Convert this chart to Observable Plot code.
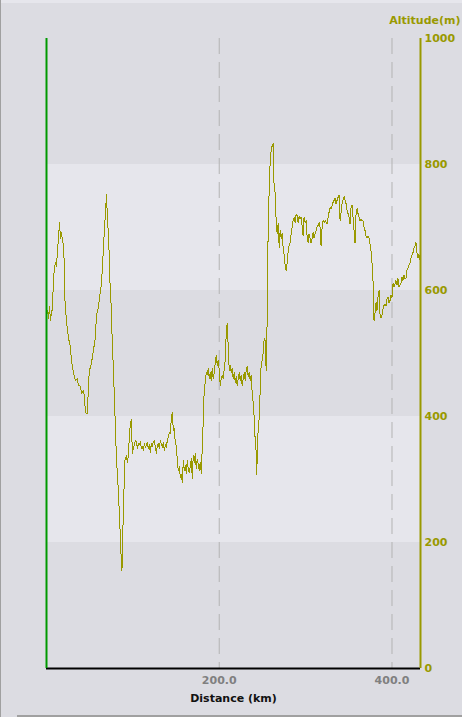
<!DOCTYPE html>
<html><head><meta charset="utf-8">
<script src="https://cdn.jsdelivr.net/npm/d3@7"></script>
<script src="https://cdn.jsdelivr.net/npm/@observablehq/plot@0.6"></script>
<style>
html,body{margin:0;padding:0;background:#dcdce2;overflow:hidden}
#wrap{position:relative;width:462px;height:717px}
.c{position:absolute}
</style></head><body>
<div id="wrap"></div>
<script>
const distanceKm = [1.2,2.3,3.5,4.6,5.8,6.9,8.1,9.2,10.4,11.6,12.7,13.9,15.0,16.2,17.3,18.5,19.7,20.8,21.4,23.1,
25.4,27.7,28.9,31.2,33.5,35.8,37.0,39.3,40.5,42.8,43.9,45.1,47.4,48.6,49.7,52.0,54.3,56.6,57.8,60.1,
61.3,63.6,64.7,65.9,68.2,69.4,70.5,71.7,72.8,73.4,75.1,76.3,77.5,78.6,79.8,80.9,82.7,84.4,85.5,86.7,
87.3,87.9,88.4,89.6,90.7,91.3,92.5,93.6,94.8,95.9,97.1,98.3,99.4,100.6,101.7,102.9,104.0,105.2,106.4,107.5,
108.7,109.8,111.0,112.1,113.3,114.5,115.6,116.8,117.9,119.1,120.2,121.4,122.5,123.7,124.9,126.0,127.2,128.3,129.5,130.6,
131.8,132.9,134.1,135.3,136.4,137.6,138.7,139.9,141.0,142.2,143.3,144.5,145.7,146.8,148.0,149.1,150.3,151.4,152.6,153.8,
154.9,156.1,157.2,158.4,159.5,160.7,161.8,163.0,164.1,165.3,166.5,167.6,168.8,169.9,171.1,172.2,173.4,174.5,175.7,176.9,
178.0,179.2,180.3,181.5,182.6,183.8,185.0,186.1,187.3,188.4,189.6,190.7,191.9,193.0,194.2,195.4,196.5,197.7,198.8,200.0,
201.2,202.3,203.5,204.6,205.8,206.9,208.1,209.2,210.4,211.6,212.7,213.9,215.0,216.2,217.3,218.5,219.7,220.8,222.0,223.1,
224.3,225.4,226.6,227.7,228.9,230.1,231.2,232.4,233.5,234.7,235.8,237.0,238.1,239.3,240.5,241.6,242.8,243.4,244.5,246.2,
247.4,248.5,249.7,250.8,252.0,253.2,254.3,254.9,255.5,256.1,256.6,257.8,258.9,260.1,261.3,262.4,263.6,264.7,265.9,267.0,
268.2,269.4,270.5,271.7,272.8,274.0,275.1,276.3,277.5,278.6,279.8,280.9,282.1,283.2,284.4,285.5,286.7,287.9,289.0,290.2,
291.3,292.5,293.6,294.8,295.9,297.1,298.2,299.4,300.6,301.7,302.9,304.0,305.2,306.3,307.5,308.6,309.8,311.0,312.1,313.3,
314.4,315.6,316.7,317.9,319.1,320.2,321.4,322.5,323.7,324.8,326.0,327.1,328.3,329.5,330.6,331.8,332.9,334.1,335.2,336.4,
337.6,338.7,339.9,341.0,342.2,343.3,344.5,345.7,346.8,348.0,349.1,350.3,351.4,352.6,353.7,354.9,356.1,357.2,358.4,359.5,
360.7,361.8,363.0,364.1,365.3,366.5,367.6,368.8,369.9,371.1,372.2,373.4,374.5,375.7,376.9,378.0,378.6,379.2,380.3,381.5,
382.6,383.8,385.0,386.1,387.3,388.4,389.6,390.7,391.9,393.0,394.2,395.4,396.5,397.7,398.8,400.0,401.2,402.3,403.5,404.6,
405.8,406.9,408.1,409.2,410.4,411.6,412.7,413.9,415.0,416.2,417.3,418.5,419.7,420.8,422.0,423.1,424.3,425.4,426.6,427.7,
428.9,430.1,431.2,432.4,433.0];

const altitudeM = [568,556,575,552,565,571,619,635,644,638,663,683,708,683,692,679,671,635,584,552,
525,510,489,470,457,460,449,448,437,441,432,406,405,452,473,484,505,525,560,573,
587,611,636,668,722,752,716,687,651,616,568,510,476,429,383,335,294,246,208,167,
156,171,219,278,330,333,338,327,338,367,390,395,341,351,354,362,360,349,357,355,
360,349,352,346,357,351,354,359,349,355,343,357,352,360,362,352,341,354,357,349,
362,357,351,359,346,355,351,362,367,375,373,397,406,378,381,357,354,330,314,321,
303,308,295,330,314,322,310,330,317,311,321,333,302,338,327,341,317,332,325,314,
327,310,349,394,444,454,470,467,476,460,470,457,476,460,470,486,497,481,489,473,
449,460,465,460,476,489,532,548,510,473,481,470,476,460,470,454,463,449,460,470,
457,465,449,460,470,457,473,479,463,470,457,465,438,421,398,362,343,308,367,398,
441,481,489,500,524,521,473,500,563,616,700,759,802,822,830,833,759,756,711,690,
706,668,695,683,690,668,656,640,632,643,663,671,676,690,700,711,716,708,721,719,
708,717,714,716,703,687,716,708,711,687,676,690,683,675,683,692,683,690,695,702,
703,708,700,671,700,711,708,711,708,706,716,724,732,730,735,740,743,746,738,743,
748,751,711,724,738,743,749,743,738,727,722,716,706,732,735,716,695,675,722,730,
722,716,711,714,711,710,700,695,687,683,686,683,675,663,643,616,579,552,563,581,
568,589,600,563,556,560,571,576,579,575,587,589,581,584,592,589,611,605,610,616,
608,619,605,608,611,621,616,624,619,619,632,635,640,644,651,656,660,667,671,676,
660,652,657,648,668];

const altitudeTicks = [0, 200, 400, 600, 800, 1000];
const distanceTicks = [200, 400];
const distanceMax = 433;

const n = Math.min(distanceKm.length, altitudeM.length);
const profile = d3.range(n).map(i => ({km: distanceKm[i], alt: altitudeM[i]}));
const bands = d3.pairs(altitudeTicks).map(([a, b], i) => ({y1: a, y2: b, light: i % 2 === 1}));

const chart = Plot.plot({
  width: 462, height: 717,
  marginLeft: 46, marginRight: 42, marginTop: 38, marginBottom: 49,
  x: {domain: [0, distanceMax], axis: null},
  y: {domain: [0, 1000], axis: null},
  style: {background: "#dcdce2", fontFamily: "'DejaVu Sans', sans-serif", fontSize: "11px", overflow: "visible"},
  marks: [
    Plot.rect(bands.filter(b => b.light), {y1: "y1", y2: "y2", fill: "#e6e6ec"}),
    Plot.ruleX(distanceTicks, {stroke: "#b4b4b4", strokeWidth: 1, strokeDasharray: "16,8"}),
    Plot.line(profile, {x: "km", y: "alt", stroke: "#999900", strokeWidth: 1, shapeRendering: "crispEdges"}),
    Plot.ruleY([0], {stroke: "#000", strokeWidth: 2}),
    Plot.ruleX([0], {stroke: "#009900", strokeWidth: 2}),
    Plot.ruleX([distanceMax], {stroke: "#999900", strokeWidth: 2}),
    Plot.text(altitudeTicks, {x: distanceMax, y: d => d, text: d => String(d), dx: 4, textAnchor: "start", fill: "#999900", fontWeight: "bold"}),
    Plot.text(distanceTicks, {x: d => d, y: 0, text: d => d.toFixed(1), dy: 12, fill: "#808080", fontWeight: "bold"}),
    Plot.text(["Distance (km)"], {frameAnchor: "bottom", dy: 33, fill: "#111", fontWeight: "bold"}),
    Plot.text(["Altitude(m)"], {frameAnchor: "top-right", dx: 40, dy: -22, textAnchor: "end", fill: "#999900", fontWeight: "bold"})
  ]
});
const wrap = document.getElementById("wrap");
wrap.appendChild(chart);
const deco = [
  {top: 0, left: 0, width: 462, height: 3, bg: "#e6e6ec"},
  {top: 0, left: 0, width: 1, height: 717, bg: "#a0a0a0"},
  {top: 715, left: 17, width: 445, height: 2, bg: "#a0a0a0"}
];
deco.forEach(d => {
  const el = document.createElement("div");
  el.className = "c";
  Object.assign(el.style, {top: d.top + "px", left: d.left + "px", width: d.width + "px", height: d.height + "px", background: d.bg});
  wrap.appendChild(el);
});
</script>
</body></html>
